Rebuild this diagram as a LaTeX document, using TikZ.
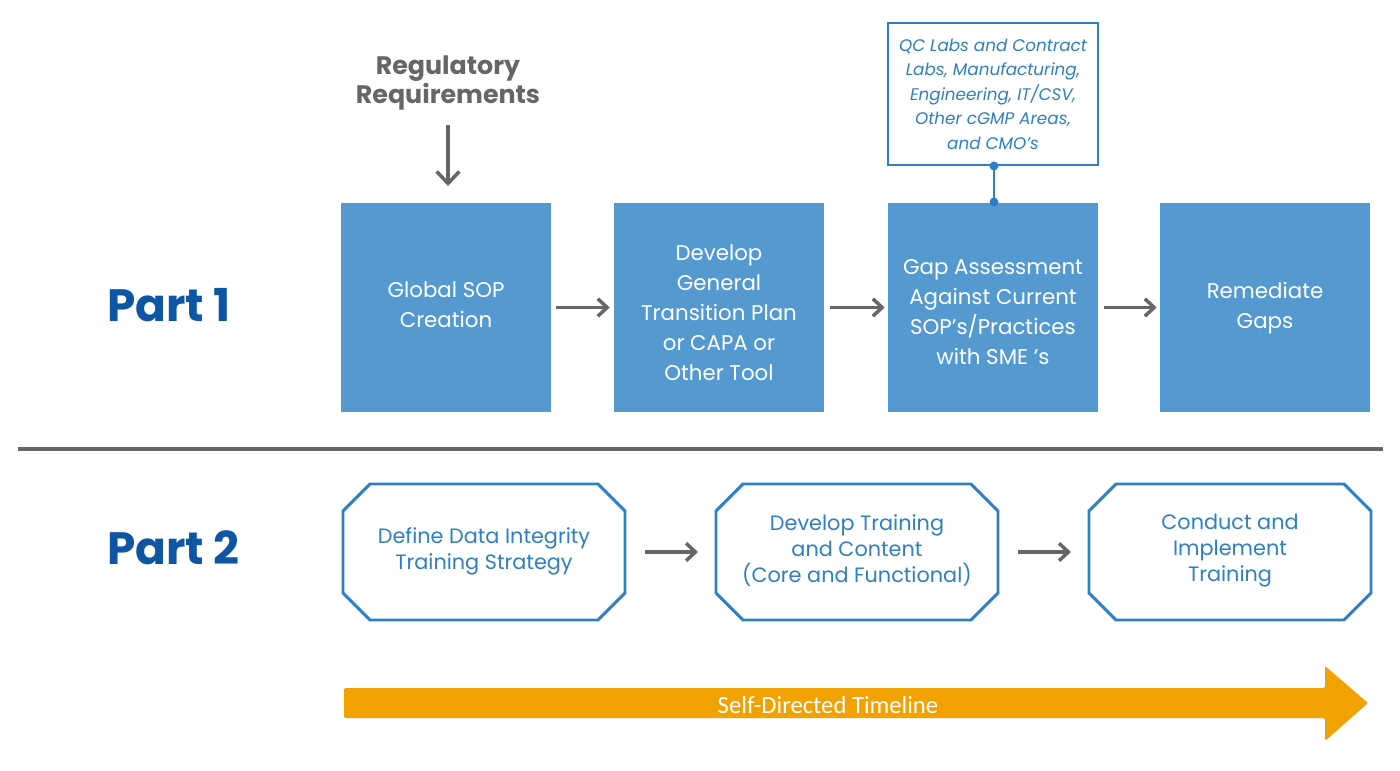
\documentclass[tikz,border=0pt]{standalone}
\usepackage{fontspec}
\setmainfont{Poppins}
\newfontfamily\tlfont{Carlito}
\usetikzlibrary{arrows.meta,positioning}
\definecolor{boxblue}{HTML}{5499D0}
\definecolor{lineblue}{HTML}{2F80C3}
\definecolor{txtblue}{HTML}{2F80C3}
\definecolor{partblue}{HTML}{0D56A4}
\definecolor{arrgray}{HTML}{666666}
\definecolor{tlorange}{HTML}{F2A200}
\tikzset{
  solidbox/.style={fill=boxblue, draw=none, minimum width=210*0.75pt, minimum height=209*0.75pt, inner sep=0pt},
  boxtext/.style={text=white, align=center, font=\fontsize{16}{22.5}\selectfont, inner sep=0pt},
  octbox/.style={draw=lineblue, line width=2.2pt, fill=white},
  octtext/.style={text=txtblue, align=center, font=\fontsize{15.6}{19.5}\selectfont},
  flowarrow/.style={draw=arrgray, line width=2.6pt, -{Straight Barb[length=7pt,width=13pt,line width=2.6pt]}},
  partlabel/.style={text=partblue, font=\fontsize{34}{36}\selectfont\bfseries},
}
\begin{document}
\begin{tikzpicture}[x=0.75pt,y=-0.75pt]
\useasboundingbox (0,0) rectangle (1400,771);
% Part labels
\node[partlabel, anchor=west, inner sep=0pt] (p1) at (107,305) {Part 1};
\node[partlabel, anchor=west, inner sep=0pt] (p2) at (107,548) {Part 2};
% divider
\coordinate (dl) at (18,449);
\coordinate (dr) at (1383,449);
\draw[arrgray, line width=2.4pt] (dl) -- (dr);
% Regulatory
\node[text=arrgray, align=center, font=\fontsize{19}{20.3}\selectfont\bfseries] (reg) at (448,83) {Regulatory\\Requirements};
\coordinate (regend) at (448,186);
\coordinate (regstart) at (448,125);
\draw[arrgray, line width=2.6pt, -{Straight Barb[length=9pt,width=17pt,line width=2.6pt]}] (regstart) -- (regend);
% Part 1 boxes
\node[solidbox] (b1) at (446,307.5) {};
\node[solidbox] (b2) at (719,307.5) {};
\node[solidbox] (b3) at (993,307.5) {};
\node[solidbox] (b4) at (1265,307.5) {};
\node[boxtext] (t1) at (446,305) {Global SOP\\Creation};
\node[boxtext] (t2) at (719,313) {Develop\\General\\Transition Plan\\or CAPA or\\Other Tool};
\node[boxtext] (t3) at (993,312) {Gap Assessment\\Against Current\\SOP's/Practices\\with SME 's};
\node[boxtext] (t4) at (1265,308) {Remediate\\Gaps};
\draw[flowarrow] ([xshift=5*0.75pt]b1.east) -- ([xshift=-4*0.75pt]b2.west);
\draw[flowarrow] ([xshift=6*0.75pt]b2.east) -- ([xshift=-3*0.75pt]b3.west);
\draw[flowarrow] ([xshift=6*0.75pt]b3.east) -- ([xshift=-3*0.75pt]b4.west);
% QC box
\node[draw=lineblue, line width=2.2pt, fill=white, minimum width=210*0.75pt, minimum height=142*0.75pt, text=txtblue, align=center, inner sep=0pt, font=\fontsize{12.6}{18.4}\selectfont\itshape] (qc) at (993,94) {QC Labs and Contract\\Labs, Manufacturing,\\Engineering, IT/CSV,\\Other cGMP Areas,\\and CMO's};
\coordinate (qcb) at (994,166);
\coordinate (b3t) at (994,202);
\draw[lineblue, line width=1.5pt] (qcb) -- (b3t);
\fill[lineblue] (qcb) circle (4.5*0.75pt);
\fill[lineblue] (b3t) circle (4.5*0.75pt);
% Part 2 octagons
\def\oct#1#2{%
  \draw[octbox] (#1+27,484) -- (#2-27,484) -- (#2,511) -- (#2,593) -- (#2-27,620) -- (#1+27,620) -- (#1,593) -- (#1,511) -- cycle;}
\oct{343}{625}
\oct{716}{998}
\oct{1089}{1371}
\node[octtext] (o1) at (484,551) {Define Data Integrity\\Training Strategy};
\node[octtext] (o2) at (857,551) {Develop Training\\and Content\\(Core and Functional)};
\node[octtext] (o3) at (1230,551) {Conduct and\\Implement\\Training};
\coordinate (a1s) at (645,552);
\coordinate (a1e) at (698,552);
\coordinate (a2s) at (1018,552);
\coordinate (a2e) at (1071,552);
\draw[flowarrow] (a1s) -- (a1e);
\draw[flowarrow] (a2s) -- (a2e);
% Timeline arrow
\fill[tlorange, rounded corners=1.5pt] (344,688) -- (1325,688) -- (1325,666) -- (1368,703) -- (1325,741) -- (1325,718) -- (344,718) -- cycle;
\node[text=white, font=\tlfont\fontsize{18.5}{20}\selectfont] (tl) at (828,705) {Self-Directed Timeline};
\end{tikzpicture}
\end{document}
